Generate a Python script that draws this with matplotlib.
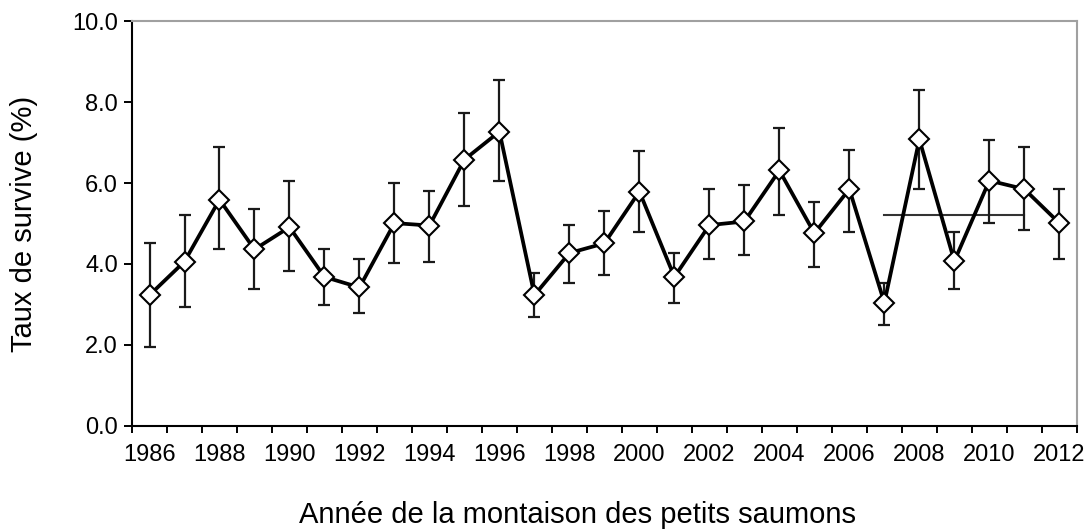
import matplotlib.pyplot as plt
import numpy as np

plt.rcParams['font.family'] = ['Liberation Sans', 'DejaVu Sans']

years = list(range(1986, 2013))
survie = [3.23, 4.06, 5.59, 4.36, 4.91, 3.68, 3.42, 5.01, 4.95, 6.58,
          7.27, 3.23, 4.27, 4.51, 5.79, 3.68, 4.96, 5.05, 6.31, 4.76,
          5.85, 3.04, 7.08, 4.07, 6.06, 5.85, 5.01]
borne_sup = [4.51, 5.21, 6.88, 5.36, 6.04, 4.37, 4.12, 5.99, 5.80, 7.72,
             8.55, 3.78, 4.96, 5.30, 6.78, 4.27, 5.85, 5.94, 7.37, 5.54,
             6.82, 3.53, 8.30, 4.80, 7.07, 6.88, 5.85]
borne_inf = [1.95, 2.94, 4.36, 3.37, 3.82, 2.98, 2.79, 4.02, 4.06, 5.44,
             6.04, 2.69, 3.53, 3.72, 4.80, 3.04, 4.12, 4.23, 5.21, 3.92,
             4.80, 2.49, 5.85, 3.38, 5.02, 4.85, 4.12]

# moyenne 2007-2011
mean_years = [2007, 2011]
mean_value = 5.21

x = np.arange(len(years))
survie = np.array(survie)
err_low = survie - np.array(borne_inf)
err_high = np.array(borne_sup) - survie

fig = plt.figure(figsize=(10.91, 5.29), dpi=100)
ax = fig.add_axes([0.121, 0.195, 0.866, 0.765])

ax.errorbar(x, survie, yerr=[err_low, err_high], fmt='none', ecolor='#1a1a1a',
            elinewidth=1.6, capsize=4.5, capthick=1.6, zorder=2)
ax.plot(x, survie, color='black', linewidth=2.7, zorder=3)
ax.plot(x, survie, linestyle='none', marker='D', markersize=10,
        markerfacecolor='white', markeredgecolor='black', markeredgewidth=1.5, zorder=4)

mx = [years.index(y) for y in mean_years]
ax.plot(mx, [mean_value, mean_value], color='#333333', linewidth=1.5, zorder=1)

ax.set_xlim(-0.5, len(years) - 0.5)
ax.set_ylim(0, 10)
ax.set_yticks(np.arange(0, 10.1, 2))
ax.set_yticklabels([f'{v:.1f}' for v in np.arange(0, 10.1, 2)])
ax.set_xticks(x[::2])
ax.set_xticklabels([str(y) for y in years[::2]])
ax.set_xticks(np.arange(-0.5, len(years), 1), minor=True)
ax.tick_params(axis='x', which='major', length=0, pad=13, labelsize=17)
ax.tick_params(axis='x', which='minor', length=5, width=1.4, direction='out')
ax.tick_params(axis='y', length=6, width=1.4, direction='out', labelsize=17, pad=4)

for s in ['left', 'bottom']:
    ax.spines[s].set_color('black')
    ax.spines[s].set_linewidth(1.5)
for s in ['top', 'right']:
    ax.spines[s].set_color('#a0a0a0')
    ax.spines[s].set_linewidth(1.5)

ax.set_ylabel('Taux de survive (%)', fontsize=21)
ax.set_xlabel('Année de la montaison des petits saumons', fontsize=21)
ax.yaxis.set_label_coords(-0.1, 0.5)
ax.xaxis.set_label_coords(0.471, -0.185)

fig.savefig('out.png', dpi=100)
